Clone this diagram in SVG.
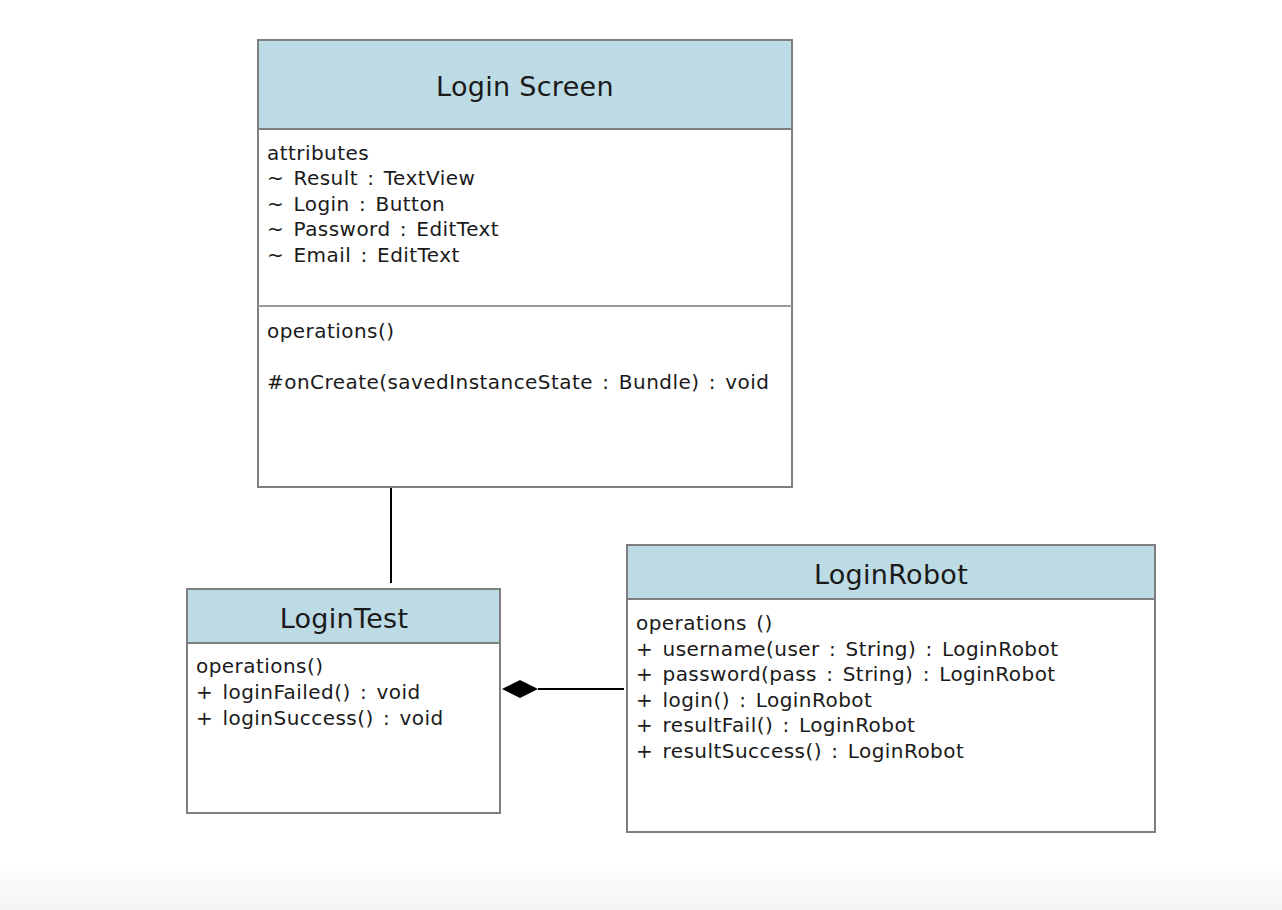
<svg xmlns="http://www.w3.org/2000/svg" width="1282" height="910" viewBox="0 0 1282 910">
<defs>
<linearGradient id="bot" x1="0" y1="0" x2="0" y2="1">
<stop offset="0" stop-color="#ffffff"/>
<stop offset="1" stop-color="#f3f3f3"/>
</linearGradient>
</defs>
<style>
.box{fill:#ffffff;stroke:#7f7f7f;stroke-width:2}
.hdr{fill:#bddbe5;stroke:#7f7f7f;stroke-width:2}
.div{stroke:#9a9a9a;stroke-width:2}
.t{font-family:"DejaVu Sans",Verdana,sans-serif;fill:#1a1a1a}
.title{font-size:27px;text-anchor:middle;letter-spacing:0.3px}
.m{font-size:20px;letter-spacing:0.45px;word-spacing:2.5px}
.edge{stroke:#000;stroke-width:2;fill:none}
</style>
<rect x="0" y="0" width="1282" height="910" fill="#fff"/>
<rect x="0" y="865" width="1282" height="45" fill="url(#bot)"/>

<g id="login-screen">
<rect class="box" x="258" y="40" width="534" height="447"/>
<rect class="hdr" x="258" y="40" width="534" height="89"/>
<line class="div" x1="258" y1="306" x2="792" y2="306"/>
<text class="t title" x="525" y="96">Login Screen</text>
<text class="t m" x="267" y="160">attributes</text>
<text class="t m" x="267" y="185">~ Result : TextView</text>
<text class="t m" x="267" y="211">~ Login : Button</text>
<text class="t m" x="267" y="236">~ Password : EditText</text>
<text class="t m" x="267" y="262">~ Email : EditText</text>
<text class="t m" x="267" y="338">operations()</text>
<text class="t m" x="267" y="389">#onCreate(savedInstanceState : Bundle) : void</text>
</g>

<g id="login-test">
<rect class="box" x="187" y="589" width="313" height="224"/>
<rect class="hdr" x="187" y="589" width="313" height="54"/>
<text class="t title" x="344" y="628">LoginTest</text>
<text class="t m" x="196" y="673">operations()</text>
<text class="t m" x="196" y="699">+ loginFailed() : void</text>
<text class="t m" x="196" y="725">+ loginSuccess() : void</text>
</g>

<g id="login-robot">
<rect class="box" x="627" y="545" width="528" height="287"/>
<rect class="hdr" x="627" y="545" width="528" height="54"/>
<text class="t title" x="891" y="584">LoginRobot</text>
<text class="t m" x="636" y="630">operations ()</text>
<text class="t m" x="636" y="656">+ username(user : String) : LoginRobot</text>
<text class="t m" x="636" y="681">+ password(pass : String) : LoginRobot</text>
<text class="t m" x="636" y="707">+ login() : LoginRobot</text>
<text class="t m" x="636" y="732">+ resultFail() : LoginRobot</text>
<text class="t m" x="636" y="758">+ resultSuccess() : LoginRobot</text>
</g>

<g id="connectors">
<line class="edge" x1="391" y1="488" x2="391" y2="583"/>
<line class="edge" x1="624" y1="689" x2="538" y2="689"/>
<path d="M502,689 L520,680 L538,689 L520,698 Z" fill="#000"/>
</g>
</svg>
